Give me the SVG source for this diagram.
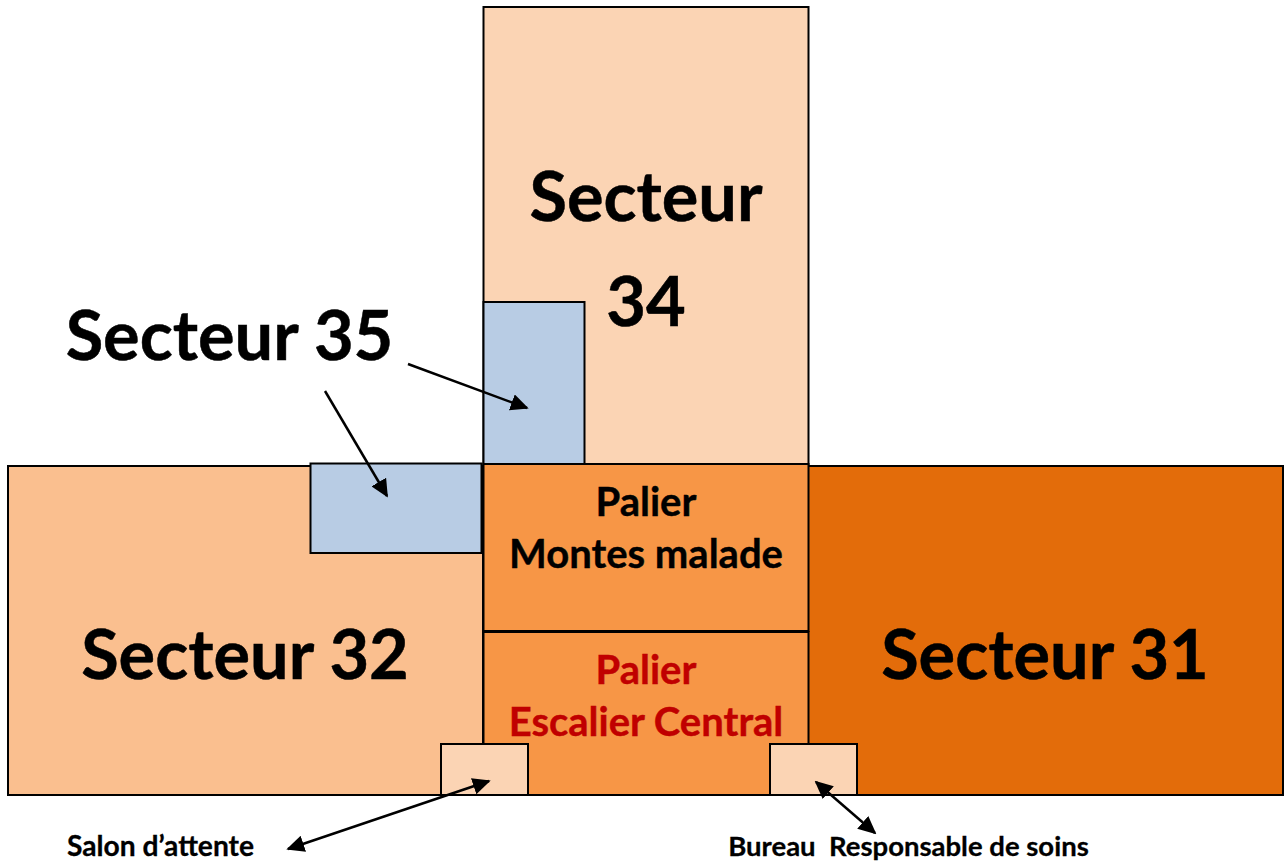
<svg xmlns="http://www.w3.org/2000/svg" width="1288" height="864" viewBox="0 0 1288 864">
<style>
.b{stroke:#000;stroke-width:2}
.t{font-family:Lato,"Open Sans",sans-serif;font-weight:700;fill:#000;text-anchor:middle;stroke:#000;stroke-width:.5}
.xl{font-size:68.500px}
.m{font-size:40px;stroke-width:.4}
.s{font-size:27.500px;stroke-width:.3}
.l{stroke:#000;stroke-width:2.500;fill:none}
.bl{fill:#b8cce4}
.p{fill:#fbd4b4}
.o{fill:#f79646}
.red{fill:#c00000;stroke:#c00000}
</style>
<defs>
<marker id="a" viewBox="0 0 10 10" refX="9" refY="5" markerWidth="18" markerHeight="17" markerUnits="userSpaceOnUse" orient="auto-start-reverse" preserveAspectRatio="none"><path d="M0 0L10 5L0 10Z" fill="#000"/></marker>
</defs>
<rect width="1288" height="864" fill="#fff"/>
<g id="secteur34"><rect class="b p" x="483.500" y="7" width="325" height="457"/><text class="t xl" x="646" y="221">Secteur</text><text class="t xl" x="646" y="326">34</text></g>
<g id="secteur32"><rect class="b" fill="#fabf8f" x="8" y="466" width="475" height="329"/><text class="t xl" x="245" y="679">Secteur 32</text></g>
<g id="secteur31"><rect class="b" fill="#e36c0a" x="808" y="466" width="475" height="329"/><text class="t xl" x="1045" y="679">Secteur 31</text></g>
<g id="palier-montes"><rect class="b o" x="483.500" y="464" width="325" height="167"/><text class="t m" x="646" y="516">Palier</text><text class="t m" x="646" y="568">Montes malade</text></g>
<g id="palier-escalier"><rect class="b o" x="483.500" y="632" width="325" height="163"/><text class="t m red" x="646" y="684">Palier</text><text class="t m red" x="646" y="736">Escalier Central</text></g>
<g id="secteur35-haut"><rect class="b bl" x="483.500" y="302" width="101" height="162"/></g>
<g id="secteur35-bas"><rect class="b bl" x="310.500" y="463.500" width="171" height="89.500"/></g>
<g id="salon"><rect class="b p" x="441" y="744" width="87" height="51"/></g>
<g id="bureau"><rect class="b p" x="770" y="744" width="87" height="51"/></g>
<g id="label-35"><text class="t xl" x="229.500" y="360">Secteur 35</text></g>
<g id="label-salon"><text class="t s" x="160.500" y="856" style="font-size:28.200px">Salon d’attente</text></g>
<g id="label-bureau"><text class="t s" x="908.500" y="856" xml:space="preserve">Bureau  Responsable de soins</text></g>
<g id="connectors">
<line class="l" x1="408" y1="364" x2="527" y2="408" marker-end="url(#a)"/>
<line class="l" x1="325" y1="391" x2="387" y2="496" marker-end="url(#a)"/>
<line class="l" x1="288" y1="849" x2="489" y2="781" marker-start="url(#a)" marker-end="url(#a)"/>
<line class="l" x1="875" y1="833" x2="816" y2="782" marker-start="url(#a)" marker-end="url(#a)"/>
</g>
</svg>
